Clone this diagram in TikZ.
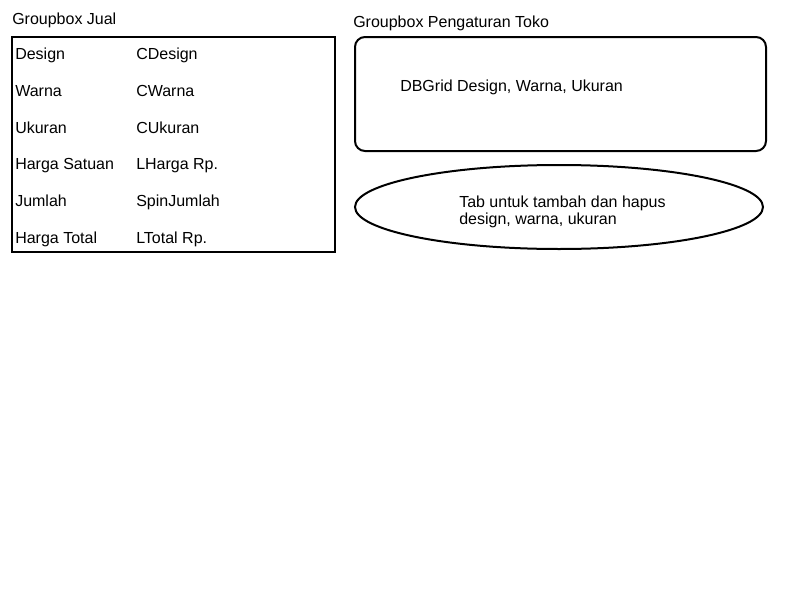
\documentclass[tikz,border=0pt]{standalone}
\usepackage{fontspec}
\setmainfont{Liberation Sans}
\usetikzlibrary{shapes.geometric}
\begin{document}
\begin{tikzpicture}[x=0.75pt,y=-0.75pt,
  txt/.style={anchor=base west,inner sep=0pt,font=\fontsize{12pt}{14pt}\selectfont}]
\useasboundingbox (0,0) rectangle (800,600);
\node[txt] (jual) at (12,24) {Groupbox Jual};
\draw[line width=1.5pt] (12,37) rectangle (335,252);
\node[txt] (design) at (15,59) {Design};
\node[txt] (cdesign) at (136,59) {CDesign};
\node[txt] (warna) at (15,96) {Warna};
\node[txt] (cwarna) at (136,96) {CWarna};
\node[txt] (ukuran) at (15,133) {Ukuran};
\node[txt] (cukuran) at (136,133) {CUkuran};
\node[txt] (satuan) at (15,169) {Harga Satuan};
\node[txt] (lharga) at (136,169) {LHarga Rp.};
\node[txt] (jumlah) at (15,206) {Jumlah};
\node[txt] (spin) at (136,206) {SpinJumlah};
\node[txt] (total) at (15,243) {Harga Total};
\node[txt] (ltotal) at (136,243) {LTotal Rp.};
\node[txt] (toko) at (353,27) {Groupbox Pengaturan Toko};
\draw[line width=1.5pt,rounded corners=7.5pt] (355,37) rectangle (766,151);
\node[txt] (grid) at (400,91) {DBGrid Design, Warna, Ukuran};
\draw[line width=1.5pt] (559,207) ellipse [x radius=204, y radius=42];
\node[txt] (tab1) at (459,207) {Tab untuk tambah dan hapus};
\node[txt] (tab2) at (459,224) {design, warna, ukuran};
\end{tikzpicture}
\end{document}
